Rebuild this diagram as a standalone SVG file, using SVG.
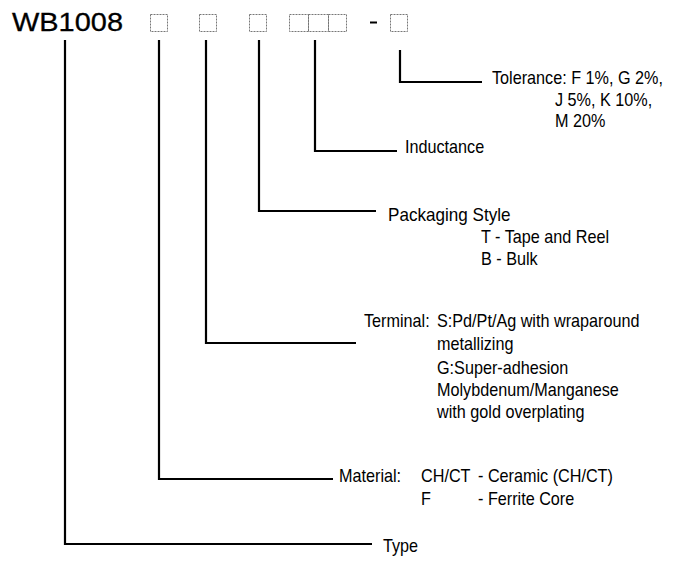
<svg xmlns="http://www.w3.org/2000/svg" width="697" height="561" viewBox="0 0 697 561">
<style>
.t{font-family:"Liberation Sans",Arial,Helvetica,sans-serif;font-size:18px;fill:#000}
.c{fill:none;stroke:#000;stroke-width:2.2}
.b{fill:none;stroke:#777;stroke-width:1;stroke-dasharray:2 1}
</style>
<rect width="697" height="561" fill="#fff"/>
<g id="title">
<text x="12" y="31" font-family="Liberation Sans,Arial,Helvetica,sans-serif" font-size="25" stroke="#000" stroke-width="0.3" textLength="111" lengthAdjust="spacingAndGlyphs">WB1008</text>
<rect class="b" x="150.5" y="14.5" width="17" height="17"/>
<rect class="b" x="199.5" y="14.5" width="17" height="17"/>
<rect class="b" x="249.5" y="14.5" width="17" height="17"/>
<rect class="b" x="289.5" y="14.5" width="19" height="17"/>
<rect class="b" x="308.5" y="14.5" width="20" height="17"/>
<rect class="b" x="328.5" y="14.5" width="18" height="17"/>
<line x1="370" y1="22.5" x2="377" y2="22.5" stroke="#000" stroke-width="2"/>
<rect class="b" x="390.5" y="14.5" width="17" height="17"/>
</g>
<g id="connectors">
<path class="c" d="M400,50 V82 H482"/>
<path class="c" d="M315,40 V151 H397"/>
<path class="c" d="M259,40 V211 H376"/>
<path class="c" d="M206,40 V343 H356"/>
<path class="c" d="M159,40 V479 H333"/>
<path class="c" d="M65,40 V544 H372"/>
</g>
<g id="tolerance">
<text class="t" transform="translate(492 84) scale(0.9 1)">Tolerance: F 1%, G 2%,</text>
<text class="t" transform="translate(555 106) scale(0.9 1)">J 5%, K 10%,</text>
<text class="t" transform="translate(555 127) scale(0.9 1)">M 20%</text>
</g>
<g id="inductance">
<text class="t" transform="translate(405 153) scale(0.9 1)">Inductance</text>
</g>
<g id="packaging">
<text class="t" transform="translate(388 221) scale(0.95 1)">Packaging Style</text>
<text class="t" transform="translate(481 243) scale(0.9 1)">T - Tape and Reel</text>
<text class="t" transform="translate(481 265) scale(0.9 1)">B - Bulk</text>
</g>
<g id="terminal">
<text class="t" transform="translate(364 327) scale(0.9 1)">Terminal:</text>
<text class="t" transform="translate(437 327) scale(0.9 1)">S:Pd/Pt/Ag with wraparound</text>
<text class="t" transform="translate(437 350) scale(0.9 1)">metallizing</text>
<text class="t" transform="translate(437 374) scale(0.9 1)">G:Super-adhesion</text>
<text class="t" transform="translate(437 396) scale(0.9 1)">Molybdenum/Manganese</text>
<text class="t" transform="translate(437 418) scale(0.9 1)">with gold overplating</text>
</g>
<g id="material">
<text class="t" transform="translate(339 482) scale(0.9 1)">Material:</text>
<text class="t" transform="translate(421 482) scale(0.9 1)">CH/CT</text>
<text class="t" transform="translate(478 482) scale(0.9 1)">- Ceramic (CH/CT)</text>
<text class="t" transform="translate(421 505) scale(0.9 1)">F</text>
<text class="t" transform="translate(478 505) scale(0.9 1)">- Ferrite Core</text>
</g>
<g id="type">
<text class="t" transform="translate(383 552) scale(0.9 1)">Type</text>
</g>
</svg>
